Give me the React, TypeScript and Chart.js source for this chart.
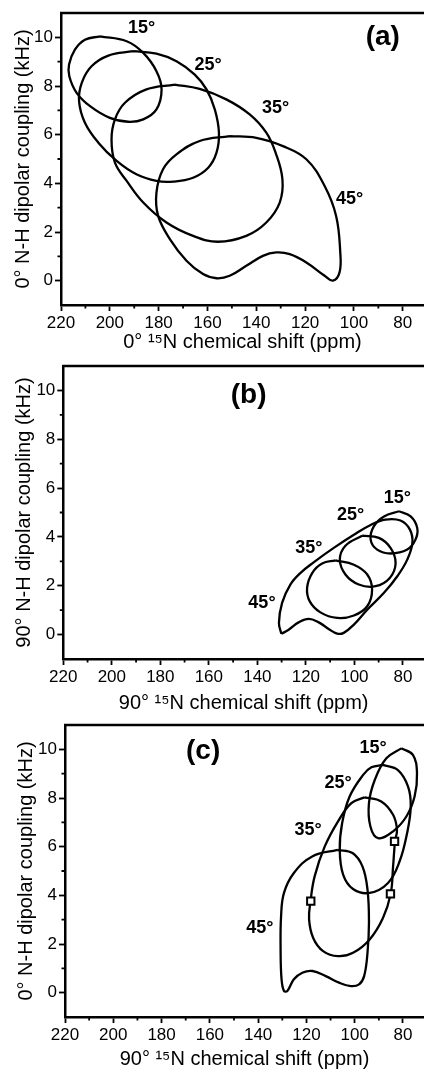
import React, { useEffect, useRef } from "react";
import { Chart, registerables } from "chart.js";

Chart.register(...registerables);

type P = [number, number];

// ---------- axis ticks ----------
const X_MAJOR = [220, 200, 180, 160, 140, 120, 100, 80];
const X_MINOR = [210, 190, 170, 150, 130, 110, 90];
const Y_MAJOR = [0, 2, 4, 6, 8, 10];
const Y_MINOR = [1, 3, 5, 7, 9];
const X_MIN = 71.3;
const X_MAX = 220;
const Y_MIN = -1;
const Y_MAX = 11;

const ANGLE_LABELS = ["15\u00B0", "25\u00B0", "35\u00B0", "45\u00B0"];

// ---------- panel (a): 0° CS vs 0° DC ----------
const A15: P[] = [
  [204.0, 10.04], [193.1, 9.84], [186.3, 9.36], [180.9, 8.61], [178.8, 7.86],
  [180.9, 7.04], [186.3, 6.63], [192.5, 6.53], [200.0, 6.69], [208.1, 7.17],
  [213.6, 7.72], [216.6, 8.4], [216.7, 8.88], [214.3, 9.49], [210.2, 9.9],
];
const A25: P[] = [
  [190.4, 9.43], [180.9, 9.33], [172.7, 9.02], [165.2, 8.47], [160.4, 7.86],
  [157.0, 7.04], [155.3, 6.08], [156.3, 5.26], [159.7, 4.64], [165.9, 4.23],
  [174.1, 4.07], [180.9, 4.1], [189.1, 4.37], [197.2, 4.92], [204.7, 5.67],
  [210.2, 6.49], [212.6, 7.38], [211.5, 8.13], [207.5, 8.81], [200.6, 9.25],
];
const A35: P[] = [
  [173.4, 8.06], [163.2, 7.88], [152.3, 7.45], [142.7, 6.83], [135.9, 6.08],
  [132.1, 5.26], [129.3, 4.17], [130.4, 3.21], [135.9, 2.39], [144.1, 1.84],
  [155.7, 1.6], [165.9, 1.84], [176.8, 2.39], [186.3, 3.21], [193.1, 4.1],
  [197.9, 4.85], [199.3, 5.81], [197.9, 6.63], [193.8, 7.31], [185.0, 7.86],
];
const A45: P[] = [
  [150.9, 5.94], [140.0, 5.87], [129.1, 5.53], [119.5, 4.99], [112.0, 3.89],
  [107.3, 2.66], [105.6, 1.16], [105.9, 0.34], [108.6, 0.0], [112.0, 0.2],
  [119.5, 0.75], [126.3, 1.09], [131.8, 1.16], [137.3, 1.02], [144.1, 0.61],
  [150.9, 0.2], [156.3, 0.1], [161.8, 0.27], [168.6, 0.82], [175.4, 1.71],
  [180.2, 2.66], [180.9, 3.62], [178.2, 4.58], [172.7, 5.19], [163.2, 5.74],
];
const A_LABEL_X = [187.0, 159.7, 132.1, 101.8];
const A_LABEL_Y = [10.38, 8.88, 7.1, 3.35];

// ---------- panel (b): 90° CS vs 90° DC ----------
const B15: P[] = [
  [81.6, 5.05], [76.8, 4.84], [74.1, 4.37], [74.8, 3.89], [78.2, 3.48],
  [85.1, 3.32], [90.6, 3.48], [93.3, 3.89], [92.0, 4.43], [87.8, 4.84],
];
const B25: P[] = [
  [96.8, 4.05], [89.9, 3.96], [85.1, 3.55], [83.0, 2.93], [85.4, 2.32],
  [91.3, 1.98], [98.2, 2.05], [103.7, 2.46], [106.0, 3.07], [103.7, 3.64],
];
const B35: P[] = [
  [107.8, 3.04], [100.2, 2.86], [94.7, 2.46], [92.7, 1.84], [94.7, 1.16],
  [100.2, 0.78], [107.1, 0.68], [114.0, 0.91], [118.4, 1.36], [119.5, 1.91],
  [117.4, 2.52], [113.3, 2.91],
];
const B45: P[] = [
  [130.1, 0.03], [131.1, 0.48], [129.8, 1.3], [126.4, 2.05], [122.3, 2.52],
  [116.8, 2.96], [108.5, 3.55], [100.2, 4.09], [93.3, 4.49], [87.2, 4.71],
  [81.0, 4.67], [77.1, 4.3], [76.1, 3.75], [78.2, 3.07], [82.3, 2.39],
  [87.8, 1.71], [94.7, 1.02], [100.2, 0.41], [104.4, 0.07], [107.1, 0.04],
  [110.6, 0.23], [114.7, 0.5], [118.8, 0.64], [123.0, 0.5], [127.1, 0.2],
];
const B_LABEL_X = [82.3, 101.6, 118.8, 138.1];
const B_LABEL_Y = [5.59, 4.91, 3.55, 1.3];

// ---------- panel (c): 90° CS vs 0° DC ----------
const C15: P[] = [
  [80.7, 10.04], [75.9, 9.77], [74.2, 9.02], [75.2, 8.06], [78.6, 7.24],
  [84.1, 6.63], [90.3, 6.35], [93.5, 6.83], [94.1, 7.79], [91.7, 8.74],
  [86.9, 9.63],
];
const C25: P[] = [
  [88.3, 9.36], [82.1, 9.15], [77.9, 8.47], [76.8, 7.65], [78.3, 6.56],
  [81.4, 5.4], [86.2, 4.51], [93.8, 4.1], [100.7, 4.26], [104.8, 4.85],
  [106.2, 5.87], [105.2, 6.97], [102.1, 8.06], [96.5, 8.95], [93.1, 9.26],
];
const C35: P[] = [
  [95.9, 8.03], [89.0, 7.86], [84.1, 7.31], [82.5, 6.69], [83.3, 6.22],
  [84.1, 5.19], [85.1, 4.06], [88.3, 3.07], [93.8, 2.19], [100.7, 1.64],
  [106.9, 1.5], [113.1, 1.71], [117.2, 2.25], [118.9, 3.01], [118.3, 3.76],
  [116.6, 4.78], [112.4, 6.01], [106.9, 7.04], [101.4, 7.79],
];
const C45: P[] = [
  [107.1, 5.87], [100.9, 5.74], [96.8, 5.19], [94.7, 4.23], [94.1, 2.87],
  [94.7, 1.64], [96.1, 0.68], [98.2, 0.34], [101.6, 0.27], [106.5, 0.41],
  [112.0, 0.68], [117.5, 0.89], [121.7, 0.82], [125.2, 0.55], [127.9, 0.07],
  [129.3, 0.07], [130.3, 0.55], [130.7, 1.78], [130.5, 3.14], [129.3, 4.1],
  [125.2, 4.92], [117.6, 5.6],
];
const C_MARK_X = [118.2, 83.5, 85.2];
const C_MARK_Y = [3.76, 6.22, 4.06];
const C_LABEL_X = [92.4, 106.9, 119.3, 139.3];
const C_LABEL_Y = [10.04, 8.61, 6.69, 2.66];

const X_TITLE_0 = "0\u00B0 \u00B9\u2075N chemical shift (ppm)";
const X_TITLE_90 = "90\u00B0 \u00B9\u2075N chemical shift (ppm)";
const Y_TITLE_0 = "0\u00B0 N-H dipolar coupling (kHz)";
const Y_TITLE_90 = "90\u00B0 N-H dipolar coupling (kHz)";

const FONT = "'Liberation Sans', Arial, 'DejaVu Sans', sans-serif";

type PanelCfg = {
  top: number;
  height: number;
  padTop: number;
  yWidth: number;
  xHeight: number;
  yTitlePad: number;
  xTitle: string;
  yTitle: string;
  loops: P[][];
  labelX: number[];
  labelY: number[];
  tag: string;
  tagX: number;
  tagY: number;
  markX?: number[];
  markY?: number[];
};

const PANELS: PanelCfg[] = [
  {
    top: 0, height: 354, padTop: 13, yWidth: 61, xHeight: 49, yTitlePad: 11,
    xTitle: X_TITLE_0, yTitle: Y_TITLE_0, loops: [A15, A25, A35, A45],
    labelX: A_LABEL_X, labelY: A_LABEL_Y, tag: "(a)", tagX: 88.2, tagY: 10.01,
  },
  {
    top: 354, height: 361, padTop: 12, yWidth: 63.3, xHeight: 56, yTitlePad: 12,
    xTitle: X_TITLE_90, yTitle: Y_TITLE_90, loops: [B15, B25, B35, B45],
    labelX: B_LABEL_X, labelY: B_LABEL_Y, tag: "(b)", tagX: 143.6, tagY: 9.82,
  },
  {
    top: 715, height: 356, padTop: 10, yWidth: 65, xHeight: 54, yTitlePad: 14,
    xTitle: X_TITLE_90, yTitle: Y_TITLE_0, loops: [C15, C25, C35, C45],
    labelX: C_LABEL_X, labelY: C_LABEL_Y, tag: "(c)", tagX: 162.8, tagY: 9.9,
    markX: C_MARK_X, markY: C_MARK_Y,
  },
];

const framePlugin = {
  id: "frameAndLabels",
  afterDatasetsDraw(chart: any, _args: any, opts: any) {
    const { ctx, chartArea } = chart;
    const xs = chart.scales.x;
    const ys = chart.scales.y;
    const cfg: PanelCfg = opts.cfg;
    ctx.save();
    // top frame line
    ctx.strokeStyle = "#000";
    ctx.lineWidth = 2.5;
    ctx.beginPath();
    ctx.moveTo(chartArea.left - 1, chartArea.top);
    ctx.lineTo(chartArea.right, chartArea.top);
    ctx.stroke();
    // minor ticks
    ctx.lineWidth = 1.8;
    ctx.beginPath();
    X_MINOR.forEach((v) => {
      const px = xs.getPixelForValue(v);
      ctx.moveTo(px, chartArea.bottom);
      ctx.lineTo(px, chartArea.bottom + 3.5);
    });
    Y_MINOR.forEach((v) => {
      const py = ys.getPixelForValue(v);
      ctx.moveTo(chartArea.left, py);
      ctx.lineTo(chartArea.left - 3.5, py);
    });
    ctx.stroke();
    // angle labels
    ctx.fillStyle = "#000";
    ctx.textAlign = "center";
    ctx.textBaseline = "middle";
    ctx.font = `bold 18px ${FONT}`;
    ANGLE_LABELS.forEach((t, i) => {
      ctx.fillText(t, xs.getPixelForValue(cfg.labelX[i]), ys.getPixelForValue(cfg.labelY[i]));
    });
    ctx.font = `bold 28px ${FONT}`;
    ctx.fillText(cfg.tag, xs.getPixelForValue(cfg.tagX), ys.getPixelForValue(cfg.tagY));
    ctx.restore();
  },
};

function Panel({ cfg }: { cfg: PanelCfg }) {
  const ref = useRef<HTMLCanvasElement | null>(null);
  useEffect(() => {
    if (!ref.current) return;
    const datasets: any[] = [];
    if (cfg.markX && cfg.markY) {
      datasets.push({
        label: "markers",
        data: cfg.markX.map((x, i) => ({ x, y: cfg.markY![i] })),
        showLine: false,
        pointStyle: "rect",
        pointRadius: 5.2,
        pointBackgroundColor: "#fff",
        pointBorderColor: "#000",
        pointBorderWidth: 2,
        order: 0,
      });
    }
    cfg.loops.forEach((loop, i) => {
      const pts = loop.concat([loop[0]]).map(([x, y]) => ({ x, y }));
      datasets.push({
        label: ANGLE_LABELS[i],
        data: pts,
        showLine: true,
        pointRadius: 0,
        borderColor: "#000",
        borderWidth: 2.3,
        tension: 0.4,
        fill: false,
        order: 1,
      });
    });
    const tickFont = { family: FONT, size: 17 };
    const titleFont = { family: FONT, size: 20 };
    const chart = new Chart(ref.current, {
      type: "scatter",
      data: { datasets },
      plugins: [framePlugin],
      options: {
        animation: false,
        responsive: false,
        events: [],
        layout: { autoPadding: false, padding: { top: cfg.padTop, left: 0, right: 0, bottom: 0 } },
        plugins: {
          legend: { display: false },
          tooltip: { enabled: false },
          frameAndLabels: { cfg },
        } as any,
        scales: {
          x: {
            type: "linear",
            reverse: true,
            min: X_MIN,
            max: X_MAX,
            afterBuildTicks: (s: any) => {
              s.ticks = X_MAJOR.map((v) => ({ value: v }));
            },
            afterFit: (s: any) => {
              s.height = cfg.xHeight;
              s.paddingLeft = 0;
              s.paddingRight = 0;
            },
            grid: {
              drawOnChartArea: false,
              drawTicks: true,
              tickLength: 6,
              tickWidth: 1.8,
              tickColor: "#000",
            },
            border: { display: true, color: "#000", width: 2.5 },
            ticks: { color: "#000", font: tickFont, padding: 2, maxRotation: 0, autoSkip: false },
            title: { display: true, text: cfg.xTitle, color: "#000", font: titleFont, padding: 0 },
          },
          y: {
            type: "linear",
            min: Y_MIN,
            max: Y_MAX,
            afterBuildTicks: (s: any) => {
              s.ticks = Y_MAJOR.map((v) => ({ value: v }));
            },
            afterFit: (s: any) => {
              s.width = cfg.yWidth;
              s.paddingTop = 0;
              s.paddingBottom = 0;
            },
            grid: {
              drawOnChartArea: false,
              drawTicks: true,
              tickLength: 6,
              tickWidth: 1.8,
              tickColor: "#000",
            },
            border: { display: true, color: "#000", width: 2.5 },
            ticks: { color: "#000", font: tickFont, padding: 2 },
            title: {
              display: true,
              text: cfg.yTitle,
              color: "#000",
              font: titleFont,
              padding: { top: cfg.yTitlePad, bottom: 0 },
            },
          },
        },
      } as any,
    });
    return () => chart.destroy();
  }, [cfg]);
  return (
    <canvas
      ref={ref}
      width={424}
      height={cfg.height}
      style={{ position: "absolute", left: 0, top: cfg.top, width: 424, height: cfg.height, display: "block" }}
    />
  );
}

export default function App() {
  return (
    <div style={{ position: "absolute", left: 0, top: 0, width: 424, height: 1072, background: "#fff", overflow: "hidden" }}>
      {PANELS.map((p, i) => (
        <Panel key={i} cfg={p} />
      ))}
    </div>
  );
}
